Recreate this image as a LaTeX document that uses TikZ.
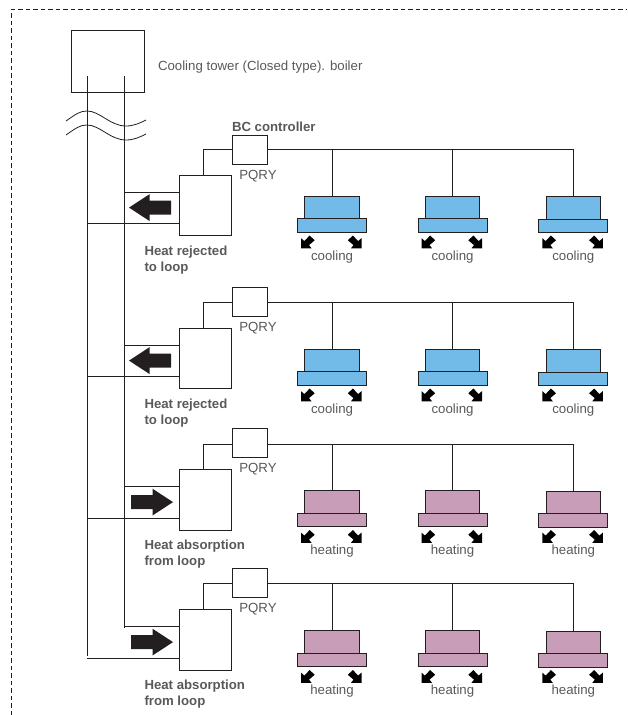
\documentclass[tikz,border=0pt]{standalone}
\usepackage{fontspec}
\setmainfont{Liberation Sans}
\definecolor{ink}{HTML}{231F20}
\definecolor{txt}{HTML}{58595B}
\definecolor{coolblue}{HTML}{72BAE8}
\definecolor{heatpink}{HTML}{C79DB8}
\tikzset{
  x=1pt,y=-1pt,
  pipe/.style={draw=ink,line width=0.9pt},
  boxn/.style={draw=ink,line width=0.9pt,fill=white,rectangle,inner sep=0,outer sep=0},
  towerbox/.style={boxn,minimum width=73pt,minimum height=62pt},
  outbox/.style={boxn,minimum width=52pt,minimum height=60.5pt},
  bcbox/.style={boxn,minimum width=34.5pt,minimum height=28.5pt},
  upperbox/.style={boxn,minimum width=54.5pt,minimum height=22.5pt},
  lowerbox/.style={boxn,minimum width=69pt,minimum height=13.5pt},
  lab/.style={text=txt,font=\fontsize{13.25}{15.6}\selectfont,inner sep=0,outer sep=0},
  blab/.style={lab,font=\fontsize{13.2}{15.6}\selectfont\bfseries,align=left},
  bigarrow/.style={fill=ink,draw=none},
  airarrow/.style={fill=black,draw=none},
  pics/air/.style={code={
    \path[airarrow] (0,0)--(0,-10.2)--(3.4,-7.2)--(8.6,-12.8)--(13.7,-8)--(8,-3.2)--(10.5,0)--cycle;
  }},
  pics/heatarrow/.style={code={
    \path[bigarrow] (-22,0)--(-1.5,-13.4)--(-1.5,-7)--(20,-7)--(20,7)--(-1.5,7)--(-1.5,13.4)--cycle;
  }}
}
\begin{document}
\begin{tikzpicture}
\useasboundingbox (0,0) rectangle (627,715);
\coordinate (fa) at (11.5,715);
\coordinate (fb) at (11.5,9);
\coordinate (fc) at (627,9);
\draw[ink,line width=0.8pt,dash pattern=on 4.5pt off 3pt] (fa)--(fb)--(fc);

\node[towerbox] (tower) at (107.5,61) {};
\node[lab,anchor=base west] (towerlab) at (158,70) {Cooling tower (Closed type). boiler};
\coordinate (pl) at (87,76);
\coordinate (pr) at (124.5,76);
\coordinate (plend) at (87,656);
\coordinate (prend) at (124.5,628);
\draw[pipe] (pl)--(plend);
\draw[pipe] (pr)--(prend);
\draw[pipe,line width=0.8pt] (66,121) .. controls (76,114) and (80,111) .. (87,111) .. controls (100,111) and (110,126) .. (126,126) .. controls (134,126) and (140,123) .. (146,120);
\draw[pipe,line width=0.8pt] (66,135) .. controls (76,128) and (80,125) .. (87,125) .. controls (100,125) and (110,140) .. (126,140) .. controls (134,140) and (140,137) .. (146,134);
\node[lab,font=\fontsize{13.2}{15.6}\selectfont\bfseries,anchor=base west] (bclab) at (232,131.5) {BC controller};

\foreach \n/\dy/\bcy/\liney/\fillc/\word/\la/\lb/\dir in {
  1/0/150/149/coolblue/cooling/Heat rejected/to loop/1,
  2/153/302/302/coolblue/cooling/Heat rejected/to loop/1,
  3/294.5/442.7/444/heatpink/heating/Heat absorption/from loop/-1,
  4/434.5/582.7/583.7/heatpink/heating/Heat absorption/from loop/-1}{
  \node[outbox] (o\n) at (205.5,205.3+\dy) {};
  \node[bcbox] (bc\n) at (249.7,\bcy) {};
  \coordinate (oa\n) at (179.5,192+\dy);
  \coordinate (ob\n) at (179.5,223.7+\dy);
  \coordinate (ot\n) at (203.5,175+\dy);
  \coordinate (bl\n) at (232.5,\liney);
  \coordinate (br\n) at (267,\liney);
  \draw[pipe] (oa\n) -- (pr |- oa\n);
  \draw[pipe] (ob\n) -- (pl |- ob\n);
  \draw[pipe] (ot\n) |- (bl\n);
  \pic[xscale=\dir] at (151,207.6+\dy) {heatarrow};
  \node[lab,anchor=base] (pq\n) at (258,\bcy+29.6) {PQRY};
  \node[blab,anchor=base west] (hl\n) at (144.5,271+\dy) {\la\\\lb};
  \foreach \u/\cx/\ex in {1/332/0,2/452.5/0,3/573.3/0.7}{
    \node[upperbox,fill=\fillc] (up\n\u) at (\cx,207.2+\dy+\ex) {};
    \node[lowerbox,fill=\fillc] (lo\n\u) at (\cx,225.2+\dy+\ex) {};
    \draw[pipe] (up\n\u.north) |- (br\n);
    \pic at (\cx-31,248.3+\dy) {air};
    \pic[xscale=-1] at (\cx+29.5,248.3+\dy) {air};
    \node[lab,anchor=base] (w\n\u) at (\cx,260.3+\dy) {\word};
  }
}
\end{tikzpicture}
\end{document}
